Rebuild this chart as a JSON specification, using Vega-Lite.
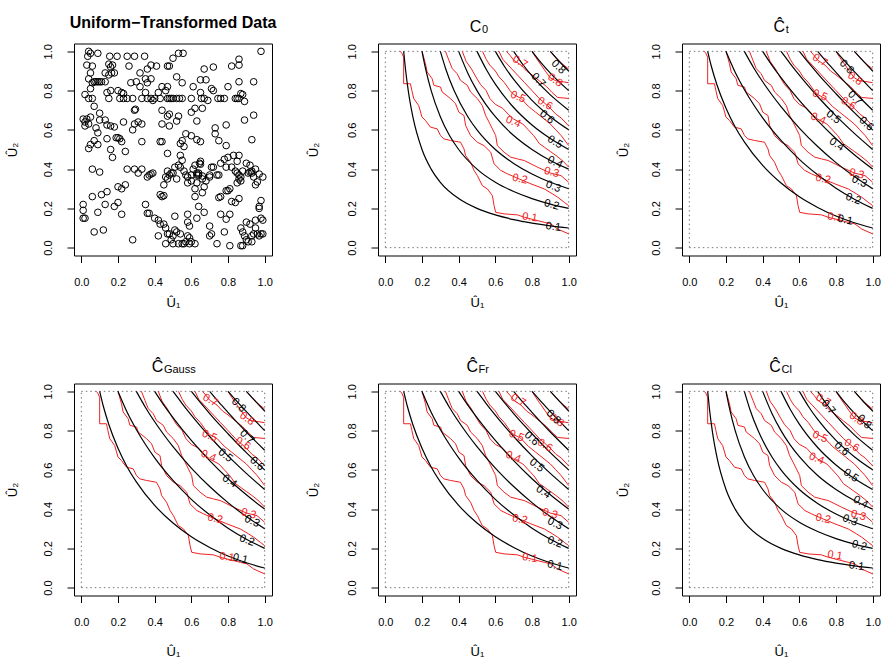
{
"$schema":"https://vega.github.io/schema/vega-lite/v6.json",
"background":"white",
"padding":{"left":6,"top":14.5,"right":0,"bottom":0},
"bounds":"flush",
"columns":3,
"spacing":{"row":128,"column":106},
"config":{
 "font":"Liberation Sans",
 "view":{"stroke":"#000","strokeWidth":1},
 "title":{"font":"Liberation Sans","subtitleFont":"Liberation Sans","color":"#000","subtitleColor":"#000","frame":"group","baseline":"alphabetic"},
 "axis":{"grid":false,"domain":false,"tickSize":7,"tickColor":"#000","tickWidth":1,"labelFont":"Liberation Sans","labelFontSize":11,"labelColor":"#000","titleFont":"Liberation Sans","titleFontSize":13,"titleFontWeight":"normal","titleColor":"#000","labelFlush":false},
 "axisX":{"labelPadding":14,"titleBaseline":"alphabetic","titleAlign":"center","titleX":99},
 "axisY":{"labelAngle":270,"labelAlign":"center","labelBaseline":"bottom","labelPadding":14,"titleAngle":270,"titleBaseline":"alphabetic","titleAlign":"center","titleY":106}
},
"datasets":{
"sq":[{"u":0,"v":0,"u2":1,"v2":0},{"u":1,"v":0,"u2":1,"v2":1},{"u":0,"v":1,"u2":1,"v2":1},{"u":0,"v":0,"u2":0,"v2":1}],
"pts":[
{"u":0.04,"v":1.0},{"u":0.05,"v":0.99},{"u":0.035,"v":0.975},{"u":0.09,"v":0.99},{"u":0.155,"v":0.975},{"u":0.195,"v":0.975},{"u":0.25,"v":0.975},{"u":0.29,"v":0.975},{"u":0.345,"v":0.975},{"u":0.5,"v":0.965},{"u":0.53,"v":0.99},{"u":0.555,"v":0.99},{"u":0.98,"v":1.0},{"u":0.86,"v":0.96},
{"u":0.03,"v":0.93},{"u":0.06,"v":0.925},{"u":0.13,"v":0.89},{"u":0.15,"v":0.935},{"u":0.16,"v":0.92},{"u":0.17,"v":0.93},{"u":0.26,"v":0.925},{"u":0.32,"v":0.89},{"u":0.36,"v":0.91},{"u":0.38,"v":0.93},{"u":0.41,"v":0.925},{"u":0.47,"v":0.925},{"u":0.48,"v":0.925},{"u":0.67,"v":0.91},{"u":0.72,"v":0.92},{"u":0.82,"v":0.925},{"u":0.86,"v":0.93},
{"u":0.04,"v":0.86},{"u":0.05,"v":0.89},{"u":0.06,"v":0.84},{"u":0.07,"v":0.845},{"u":0.08,"v":0.845},{"u":0.09,"v":0.845},{"u":0.1,"v":0.845},{"u":0.11,"v":0.845},{"u":0.13,"v":0.845},{"u":0.15,"v":0.88},{"u":0.165,"v":0.89},{"u":0.18,"v":0.89},{"u":0.27,"v":0.84},{"u":0.3,"v":0.845},{"u":0.32,"v":0.82},{"u":0.36,"v":0.84},{"u":0.35,"v":0.86},{"u":0.38,"v":0.86},{"u":0.47,"v":0.82},{"u":0.46,"v":0.8},{"u":0.52,"v":0.87},{"u":0.55,"v":0.84},{"u":0.61,"v":0.82},{"u":0.65,"v":0.855},{"u":0.68,"v":0.855},{"u":0.8,"v":0.82},{"u":0.86,"v":0.845},{"u":0.94,"v":0.845},
{"u":0.16,"v":0.8},{"u":0.2,"v":0.8},{"u":0.22,"v":0.79},{"u":0.23,"v":0.785},{"u":0.05,"v":0.81},{"u":0.14,"v":0.79},{"u":0.35,"v":0.79},{"u":0.42,"v":0.79},{"u":0.44,"v":0.82},{"u":0.65,"v":0.79},{"u":0.71,"v":0.81},{"u":0.72,"v":0.8},{"u":0.87,"v":0.785},{"u":0.88,"v":0.78},
{"u":0.02,"v":0.78},{"u":0.04,"v":0.76},{"u":0.06,"v":0.76},{"u":0.15,"v":0.76},{"u":0.21,"v":0.76},{"u":0.23,"v":0.76},{"u":0.25,"v":0.76},{"u":0.28,"v":0.76},{"u":0.33,"v":0.76},{"u":0.36,"v":0.76},{"u":0.38,"v":0.76},{"u":0.39,"v":0.75},{"u":0.4,"v":0.76},{"u":0.43,"v":0.76},{"u":0.47,"v":0.76},{"u":0.48,"v":0.76},{"u":0.49,"v":0.76},{"u":0.5,"v":0.76},{"u":0.52,"v":0.76},{"u":0.535,"v":0.76},{"u":0.55,"v":0.76},{"u":0.6,"v":0.76},{"u":0.655,"v":0.76},{"u":0.67,"v":0.76},{"u":0.69,"v":0.75},{"u":0.745,"v":0.76},{"u":0.76,"v":0.76},{"u":0.78,"v":0.76},{"u":0.84,"v":0.76},{"u":0.85,"v":0.76},{"u":0.86,"v":0.76},{"u":0.89,"v":0.745},
{"u":0.07,"v":0.72},{"u":0.1,"v":0.685},{"u":0.1,"v":0.65},{"u":0.13,"v":0.65},{"u":0.29,"v":0.7},{"u":0.295,"v":0.705},{"u":0.31,"v":0.64},{"u":0.33,"v":0.63},{"u":0.28,"v":0.6},{"u":0.29,"v":0.63},{"u":0.44,"v":0.7},{"u":0.44,"v":0.63},{"u":0.47,"v":0.67},{"u":0.48,"v":0.68},{"u":0.53,"v":0.67},{"u":0.48,"v":0.62},{"u":0.52,"v":0.645},{"u":0.6,"v":0.69},{"u":0.62,"v":0.71},{"u":0.63,"v":0.645},{"u":0.66,"v":0.71},{"u":0.73,"v":0.61},{"u":0.73,"v":0.58},{"u":0.79,"v":0.625},{"u":0.89,"v":0.65},{"u":0.94,"v":0.675},
{"u":0.01,"v":0.655},{"u":0.02,"v":0.64},{"u":0.02,"v":0.62},{"u":0.03,"v":0.655},{"u":0.04,"v":0.63},{"u":0.05,"v":0.665},{"u":0.08,"v":0.61},{"u":0.09,"v":0.585},{"u":0.14,"v":0.625},{"u":0.16,"v":0.62},{"u":0.18,"v":0.615},{"u":0.23,"v":0.64},
{"u":0.04,"v":0.505},{"u":0.05,"v":0.525},{"u":0.07,"v":0.545},{"u":0.09,"v":0.525},{"u":0.14,"v":0.555},{"u":0.19,"v":0.56},{"u":0.2,"v":0.56},{"u":0.21,"v":0.555},{"u":0.22,"v":0.54},{"u":0.24,"v":0.49},{"u":0.16,"v":0.5},{"u":0.33,"v":0.54},{"u":0.43,"v":0.54},{"u":0.44,"v":0.54},{"u":0.54,"v":0.53},{"u":0.55,"v":0.545},{"u":0.56,"v":0.515},{"u":0.57,"v":0.58},{"u":0.6,"v":0.57},{"u":0.63,"v":0.55},{"u":0.65,"v":0.54},{"u":0.75,"v":0.545},{"u":0.79,"v":0.52},{"u":0.93,"v":0.55},
{"u":0.17,"v":0.46},{"u":0.47,"v":0.48},{"u":0.54,"v":0.47},{"u":0.8,"v":0.46},{"u":0.83,"v":0.47},{"u":0.86,"v":0.47},{"u":0.85,"v":0.44},{"u":0.78,"v":0.45},{"u":0.55,"v":0.445},{"u":0.65,"v":0.44},
{"u":0.06,"v":0.4},{"u":0.1,"v":0.385},{"u":0.25,"v":0.4},{"u":0.29,"v":0.4},{"u":0.31,"v":0.38},{"u":0.33,"v":0.4},{"u":0.36,"v":0.36},{"u":0.37,"v":0.37},{"u":0.38,"v":0.375},{"u":0.39,"v":0.38},{"u":0.46,"v":0.36},{"u":0.47,"v":0.39},{"u":0.48,"v":0.37},{"u":0.49,"v":0.38},{"u":0.5,"v":0.38},{"u":0.51,"v":0.41},{"u":0.53,"v":0.42},{"u":0.54,"v":0.41},{"u":0.56,"v":0.39},{"u":0.57,"v":0.37},{"u":0.58,"v":0.36},{"u":0.6,"v":0.37},{"u":0.61,"v":0.4},{"u":0.62,"v":0.42},{"u":0.63,"v":0.38},{"u":0.64,"v":0.37},{"u":0.645,"v":0.43},{"u":0.65,"v":0.425},{"u":0.66,"v":0.365},{"u":0.7,"v":0.36},{"u":0.71,"v":0.41},{"u":0.72,"v":0.41},{"u":0.74,"v":0.37},{"u":0.75,"v":0.37},{"u":0.76,"v":0.43},{"u":0.79,"v":0.41},{"u":0.82,"v":0.41},{"u":0.84,"v":0.39},{"u":0.85,"v":0.38},{"u":0.86,"v":0.37},{"u":0.87,"v":0.36},{"u":0.88,"v":0.39},{"u":0.9,"v":0.43},{"u":0.91,"v":0.38},{"u":0.92,"v":0.385},{"u":0.93,"v":0.38},{"u":0.94,"v":0.36},{"u":0.95,"v":0.4},{"u":0.97,"v":0.375},{"u":0.92,"v":0.42},{"u":0.63,"v":0.37},{"u":0.64,"v":0.38},{"u":0.7,"v":0.37},{"u":0.93,"v":0.39},
{"u":0.45,"v":0.32},{"u":0.58,"v":0.33},{"u":0.6,"v":0.34},{"u":0.62,"v":0.3},{"u":0.63,"v":0.33},{"u":0.66,"v":0.35},{"u":0.68,"v":0.34},{"u":0.85,"v":0.33},{"u":0.86,"v":0.35},{"u":0.87,"v":0.34},{"u":0.95,"v":0.32},{"u":0.96,"v":0.335},{"u":0.99,"v":0.36},{"u":0.47,"v":0.35},{"u":0.52,"v":0.35},
{"u":0.11,"v":0.27},{"u":0.06,"v":0.26},{"u":0.14,"v":0.285},{"u":0.2,"v":0.31},{"u":0.22,"v":0.3},{"u":0.24,"v":0.32},{"u":0.43,"v":0.27},{"u":0.44,"v":0.26},{"u":0.45,"v":0.265},{"u":0.62,"v":0.26},{"u":0.66,"v":0.28},{"u":0.67,"v":0.31},{"u":0.75,"v":0.255},{"u":0.76,"v":0.26},{"u":0.79,"v":0.29},{"u":0.8,"v":0.29},{"u":0.81,"v":0.3},{"u":0.82,"v":0.235},{"u":0.84,"v":0.23},{"u":0.86,"v":0.25},
{"u":0.01,"v":0.22},{"u":0.01,"v":0.19},{"u":0.01,"v":0.15},{"u":0.02,"v":0.15},{"u":0.09,"v":0.18},{"u":0.13,"v":0.22},{"u":0.18,"v":0.21},{"u":0.2,"v":0.23},{"u":0.22,"v":0.17},{"u":0.35,"v":0.22},{"u":0.36,"v":0.175},{"u":0.37,"v":0.175},{"u":0.4,"v":0.15},{"u":0.51,"v":0.16},{"u":0.58,"v":0.17},{"u":0.58,"v":0.13},{"u":0.59,"v":0.11},{"u":0.63,"v":0.15},{"u":0.64,"v":0.21},{"u":0.67,"v":0.18},{"u":0.76,"v":0.17},{"u":0.79,"v":0.145},{"u":0.81,"v":0.17},{"u":0.9,"v":0.13},{"u":0.95,"v":0.14},{"u":0.97,"v":0.2},{"u":0.97,"v":0.21},{"u":0.98,"v":0.24},{"u":0.99,"v":0.14},{"u":0.98,"v":0.15},{"u":0.42,"v":0.14},{"u":0.43,"v":0.12},
{"u":0.07,"v":0.08},{"u":0.12,"v":0.09},{"u":0.28,"v":0.04},{"u":0.42,"v":0.06},{"u":0.45,"v":0.12},{"u":0.46,"v":0.1},{"u":0.46,"v":0.02},{"u":0.47,"v":0.07},{"u":0.48,"v":0.07},{"u":0.49,"v":0.04},{"u":0.5,"v":0.02},{"u":0.5,"v":0.06},{"u":0.51,"v":0.09},{"u":0.52,"v":0.08},{"u":0.53,"v":0.02},{"u":0.54,"v":0.07},{"u":0.55,"v":0.02},{"u":0.56,"v":0.02},{"u":0.57,"v":0.03},{"u":0.58,"v":0.06},{"u":0.59,"v":0.05},{"u":0.59,"v":0.02},{"u":0.6,"v":0.03},{"u":0.62,"v":0.02},{"u":0.7,"v":0.11},{"u":0.7,"v":0.06},{"u":0.71,"v":0.07},{"u":0.74,"v":0.02},{"u":0.78,"v":0.08},{"u":0.81,"v":0.01},{"u":0.87,"v":0.01},{"u":0.88,"v":0.01},{"u":0.88,"v":0.08},{"u":0.89,"v":0.06},{"u":0.9,"v":0.04},{"u":0.91,"v":0.03},{"u":0.92,"v":0.12},{"u":0.93,"v":0.06},{"u":0.94,"v":0.07},{"u":0.95,"v":0.1},{"u":0.96,"v":0.07},{"u":0.97,"v":0.06},{"u":0.98,"v":0.07},{"u":0.99,"v":0.07},{"u":0.93,"v":0.03},{"u":0.87,"v":0.1}
],
"red":[
{"l":1,"u":0.082,"v":1.0},{"l":1,"u":0.09,"v":0.99},{"l":1,"u":0.1,"v":0.97},{"l":1,"u":0.1,"v":0.835},{"l":1,"u":0.137,"v":0.835},{"l":1,"u":0.145,"v":0.8},{"l":1,"u":0.155,"v":0.759},{"l":1,"u":0.182,"v":0.724},{"l":1,"u":0.2,"v":0.665},{"l":1,"u":0.219,"v":0.648},{"l":1,"u":0.246,"v":0.614},{"l":1,"u":0.283,"v":0.605},{"l":1,"u":0.301,"v":0.571},{"l":1,"u":0.319,"v":0.554},{"l":1,"u":0.356,"v":0.546},{"l":1,"u":0.41,"v":0.537},{"l":1,"u":0.429,"v":0.503},{"l":1,"u":0.438,"v":0.469},{"l":1,"u":0.465,"v":0.435},{"l":1,"u":0.484,"v":0.393},{"l":1,"u":0.502,"v":0.367},{"l":1,"u":0.529,"v":0.316},{"l":1,"u":0.557,"v":0.299},{"l":1,"u":0.584,"v":0.265},{"l":1,"u":0.593,"v":0.214},{"l":1,"u":0.602,"v":0.18},{"l":1,"u":0.648,"v":0.172},{"l":1,"u":0.721,"v":0.167},{"l":1,"u":0.757,"v":0.155},{"l":1,"u":0.867,"v":0.129},{"l":1,"u":0.903,"v":0.121},{"l":1,"u":0.94,"v":0.095},{"l":1,"u":1.0,"v":0.07},
{"l":2,"u":0.2,"v":1.0},{"l":2,"u":0.219,"v":0.937},{"l":2,"u":0.228,"v":0.895},{"l":2,"u":0.255,"v":0.861},{"l":2,"u":0.265,"v":0.827},{"l":2,"u":0.301,"v":0.818},{"l":2,"u":0.31,"v":0.793},{"l":2,"u":0.356,"v":0.759},{"l":2,"u":0.383,"v":0.733},{"l":2,"u":0.401,"v":0.69},{"l":2,"u":0.429,"v":0.673},{"l":2,"u":0.438,"v":0.622},{"l":2,"u":0.465,"v":0.571},{"l":2,"u":0.502,"v":0.537},{"l":2,"u":0.538,"v":0.52},{"l":2,"u":0.575,"v":0.486},{"l":2,"u":0.593,"v":0.427},{"l":2,"u":0.63,"v":0.393},{"l":2,"u":0.666,"v":0.376},{"l":2,"u":0.73,"v":0.35},{"l":2,"u":0.794,"v":0.325},{"l":2,"u":0.867,"v":0.299},{"l":2,"u":0.912,"v":0.274},{"l":2,"u":0.94,"v":0.257},{"l":2,"u":0.976,"v":0.231},{"l":2,"u":1.0,"v":0.214},
{"l":3,"u":0.328,"v":1.0},{"l":3,"u":0.347,"v":0.954},{"l":3,"u":0.365,"v":0.912},{"l":3,"u":0.392,"v":0.886},{"l":3,"u":0.41,"v":0.852},{"l":3,"u":0.447,"v":0.827},{"l":3,"u":0.465,"v":0.793},{"l":3,"u":0.502,"v":0.759},{"l":3,"u":0.529,"v":0.724},{"l":3,"u":0.547,"v":0.673},{"l":3,"u":0.566,"v":0.639},{"l":3,"u":0.584,"v":0.605},{"l":3,"u":0.602,"v":0.571},{"l":3,"u":0.611,"v":0.52},{"l":3,"u":0.648,"v":0.486},{"l":3,"u":0.684,"v":0.461},{"l":3,"u":0.721,"v":0.452},{"l":3,"u":0.757,"v":0.444},{"l":3,"u":0.794,"v":0.427},{"l":3,"u":0.83,"v":0.41},{"l":3,"u":0.9,"v":0.38},{"l":3,"u":0.958,"v":0.367},{"l":3,"u":1.0,"v":0.333},
{"l":4,"u":0.42,"v":1.0},{"l":4,"u":0.44,"v":0.95},{"l":4,"u":0.47,"v":0.91},{"l":4,"u":0.5,"v":0.86},{"l":4,"u":0.52,"v":0.83},{"l":4,"u":0.55,"v":0.8},{"l":4,"u":0.57,"v":0.76},{"l":4,"u":0.6,"v":0.73},{"l":4,"u":0.64,"v":0.71},{"l":4,"u":0.67,"v":0.68},{"l":4,"u":0.7,"v":0.655},{"l":4,"u":0.75,"v":0.63},{"l":4,"u":0.78,"v":0.6},{"l":4,"u":0.81,"v":0.57},{"l":4,"u":0.84,"v":0.53},{"l":4,"u":0.87,"v":0.51},{"l":4,"u":0.9,"v":0.49},{"l":4,"u":0.93,"v":0.47},{"l":4,"u":0.97,"v":0.44},{"l":4,"u":1.0,"v":0.41},
{"l":5,"u":0.53,"v":1.0},{"l":5,"u":0.55,"v":0.96},{"l":5,"u":0.57,"v":0.93},{"l":5,"u":0.6,"v":0.9},{"l":5,"u":0.62,"v":0.87},{"l":5,"u":0.65,"v":0.84},{"l":5,"u":0.68,"v":0.8},{"l":5,"u":0.7,"v":0.78},{"l":5,"u":0.74,"v":0.76},{"l":5,"u":0.78,"v":0.72},{"l":5,"u":0.82,"v":0.69},{"l":5,"u":0.86,"v":0.66},{"l":5,"u":0.9,"v":0.63},{"l":5,"u":0.93,"v":0.6},{"l":5,"u":0.96,"v":0.57},{"l":5,"u":1.0,"v":0.52},
{"l":6,"u":0.62,"v":1.0},{"l":6,"u":0.64,"v":0.96},{"l":6,"u":0.67,"v":0.93},{"l":6,"u":0.7,"v":0.9},{"l":6,"u":0.73,"v":0.87},{"l":6,"u":0.76,"v":0.84},{"l":6,"u":0.8,"v":0.8},{"l":6,"u":0.84,"v":0.76},{"l":6,"u":0.87,"v":0.735},{"l":6,"u":0.9,"v":0.71},{"l":6,"u":0.93,"v":0.68},{"l":6,"u":0.96,"v":0.66},{"l":6,"u":1.0,"v":0.62},
{"l":7,"u":0.66,"v":1.0},{"l":7,"u":0.68,"v":0.98},{"l":7,"u":0.7,"v":0.955},{"l":7,"u":0.74,"v":0.93},{"l":7,"u":0.77,"v":0.9},{"l":7,"u":0.8,"v":0.88},{"l":7,"u":0.84,"v":0.85},{"l":7,"u":0.88,"v":0.82},{"l":7,"u":0.91,"v":0.79},{"l":7,"u":0.94,"v":0.765},{"l":7,"u":1.0,"v":0.76},
{"l":8,"u":0.8,"v":1.0},{"l":8,"u":0.82,"v":0.97},{"l":8,"u":0.85,"v":0.93},{"l":8,"u":0.88,"v":0.89},{"l":8,"u":0.9,"v":0.865},{"l":8,"u":0.93,"v":0.85},{"l":8,"u":0.97,"v":0.845},{"l":8,"u":1.0,"v":0.84},
{"l":9,"u":0.9,"v":1.0},{"l":9,"u":0.93,"v":0.97},{"l":9,"u":0.96,"v":0.94},{"l":9,"u":1.0,"v":0.91}
],
"blk":[
{"s":"i","l":1,"u":0.1,"v":1},{"s":"i","l":1,"u":0.11,"v":0.909},{"s":"i","l":1,"u":0.125,"v":0.8},{"s":"i","l":1,"u":0.15,"v":0.667},{"s":"i","l":1,"u":0.2,"v":0.5},{"s":"i","l":1,"u":0.25,"v":0.4},{"s":"i","l":1,"u":0.3,"v":0.333},{"s":"i","l":1,"u":0.4,"v":0.25},{"s":"i","l":1,"u":0.5,"v":0.2},{"s":"i","l":1,"u":0.6,"v":0.167},{"s":"i","l":1,"u":0.7,"v":0.143},{"s":"i","l":1,"u":0.8,"v":0.125},{"s":"i","l":1,"u":0.9,"v":0.111},{"s":"i","l":1,"u":1,"v":0.1},
{"s":"i","l":2,"u":0.2,"v":1},{"s":"i","l":2,"u":0.22,"v":0.909},{"s":"i","l":2,"u":0.25,"v":0.8},{"s":"i","l":2,"u":0.3,"v":0.667},{"s":"i","l":2,"u":0.35,"v":0.571},{"s":"i","l":2,"u":0.4,"v":0.5},{"s":"i","l":2,"u":0.5,"v":0.4},{"s":"i","l":2,"u":0.6,"v":0.333},{"s":"i","l":2,"u":0.7,"v":0.286},{"s":"i","l":2,"u":0.8,"v":0.25},{"s":"i","l":2,"u":0.9,"v":0.222},{"s":"i","l":2,"u":1,"v":0.2},
{"s":"i","l":3,"u":0.3,"v":1},{"s":"i","l":3,"u":0.33,"v":0.909},{"s":"i","l":3,"u":0.375,"v":0.8},{"s":"i","l":3,"u":0.45,"v":0.667},{"s":"i","l":3,"u":0.5,"v":0.6},{"s":"i","l":3,"u":0.6,"v":0.5},{"s":"i","l":3,"u":0.7,"v":0.429},{"s":"i","l":3,"u":0.8,"v":0.375},{"s":"i","l":3,"u":0.9,"v":0.333},{"s":"i","l":3,"u":1,"v":0.3},
{"s":"i","l":4,"u":0.4,"v":1},{"s":"i","l":4,"u":0.45,"v":0.889},{"s":"i","l":4,"u":0.5,"v":0.8},{"s":"i","l":4,"u":0.55,"v":0.727},{"s":"i","l":4,"u":0.6,"v":0.667},{"s":"i","l":4,"u":0.7,"v":0.571},{"s":"i","l":4,"u":0.8,"v":0.5},{"s":"i","l":4,"u":0.9,"v":0.444},{"s":"i","l":4,"u":1,"v":0.4},
{"s":"i","l":5,"u":0.5,"v":1},{"s":"i","l":5,"u":0.55,"v":0.909},{"s":"i","l":5,"u":0.6,"v":0.833},{"s":"i","l":5,"u":0.7,"v":0.714},{"s":"i","l":5,"u":0.8,"v":0.625},{"s":"i","l":5,"u":0.9,"v":0.556},{"s":"i","l":5,"u":1,"v":0.5},
{"s":"i","l":6,"u":0.6,"v":1},{"s":"i","l":6,"u":0.65,"v":0.923},{"s":"i","l":6,"u":0.7,"v":0.857},{"s":"i","l":6,"u":0.8,"v":0.75},{"s":"i","l":6,"u":0.9,"v":0.667},{"s":"i","l":6,"u":1,"v":0.6},
{"s":"i","l":7,"u":0.7,"v":1},{"s":"i","l":7,"u":0.75,"v":0.933},{"s":"i","l":7,"u":0.8,"v":0.875},{"s":"i","l":7,"u":0.9,"v":0.778},{"s":"i","l":7,"u":1,"v":0.7},
{"s":"i","l":8,"u":0.8,"v":1},{"s":"i","l":8,"u":0.85,"v":0.941},{"s":"i","l":8,"u":0.9,"v":0.889},{"s":"i","l":8,"u":1,"v":0.8},
{"s":"i","l":9,"u":0.9,"v":1},{"s":"i","l":9,"u":0.95,"v":0.947},{"s":"i","l":9,"u":1,"v":0.9},
{"s":"f","l":1,"u":0.1,"v":1},{"s":"f","l":1,"u":0.12,"v":0.924},{"s":"f","l":1,"u":0.15,"v":0.831},{"s":"f","l":1,"u":0.2,"v":0.71},{"s":"f","l":1,"u":0.25,"v":0.615},{"s":"f","l":1,"u":0.3,"v":0.539},{"s":"f","l":1,"u":0.4,"v":0.419},{"s":"f","l":1,"u":0.5,"v":0.329},{"s":"f","l":1,"u":0.6,"v":0.259},{"s":"f","l":1,"u":0.7,"v":0.205},{"s":"f","l":1,"u":0.8,"v":0.161},{"s":"f","l":1,"u":0.9,"v":0.127},{"s":"f","l":1,"u":1,"v":0.1},
{"s":"f","l":2,"u":0.2,"v":1},{"s":"f","l":2,"u":0.25,"v":0.894},{"s":"f","l":2,"u":0.3,"v":0.806},{"s":"f","l":2,"u":0.35,"v":0.729},{"s":"f","l":2,"u":0.4,"v":0.661},{"s":"f","l":2,"u":0.5,"v":0.546},{"s":"f","l":2,"u":0.6,"v":0.45},{"s":"f","l":2,"u":0.7,"v":0.371},{"s":"f","l":2,"u":0.8,"v":0.303},{"s":"f","l":2,"u":0.9,"v":0.247},{"s":"f","l":2,"u":1,"v":0.2},
{"s":"f","l":3,"u":0.3,"v":1},{"s":"f","l":3,"u":0.35,"v":0.918},{"s":"f","l":3,"u":0.4,"v":0.845},{"s":"f","l":3,"u":0.45,"v":0.779},{"s":"f","l":3,"u":0.5,"v":0.718},{"s":"f","l":3,"u":0.6,"v":0.609},{"s":"f","l":3,"u":0.7,"v":0.515},{"s":"f","l":3,"u":0.8,"v":0.433},{"s":"f","l":3,"u":0.9,"v":0.362},{"s":"f","l":3,"u":1,"v":0.3},
{"s":"f","l":4,"u":0.4,"v":1},{"s":"f","l":4,"u":0.45,"v":0.93},{"s":"f","l":4,"u":0.5,"v":0.866},{"s":"f","l":4,"u":0.55,"v":0.806},{"s":"f","l":4,"u":0.6,"v":0.75},{"s":"f","l":4,"u":0.7,"v":0.647},{"s":"f","l":4,"u":0.8,"v":0.555},{"s":"f","l":4,"u":0.9,"v":0.473},{"s":"f","l":4,"u":1,"v":0.4},
{"s":"f","l":5,"u":0.5,"v":1},{"s":"f","l":5,"u":0.55,"v":0.938},{"s":"f","l":5,"u":0.6,"v":0.879},{"s":"f","l":5,"u":0.65,"v":0.823},{"s":"f","l":5,"u":0.7,"v":0.77},{"s":"f","l":5,"u":0.8,"v":0.671},{"s":"f","l":5,"u":0.9,"v":0.582},{"s":"f","l":5,"u":1,"v":0.5},
{"s":"f","l":6,"u":0.6,"v":1},{"s":"f","l":6,"u":0.65,"v":0.942},{"s":"f","l":6,"u":0.7,"v":0.887},{"s":"f","l":6,"u":0.75,"v":0.834},{"s":"f","l":6,"u":0.8,"v":0.784},{"s":"f","l":6,"u":0.9,"v":0.688},{"s":"f","l":6,"u":1,"v":0.6},
{"s":"f","l":7,"u":0.7,"v":1},{"s":"f","l":7,"u":0.75,"v":0.945},{"s":"f","l":7,"u":0.8,"v":0.893},{"s":"f","l":7,"u":0.85,"v":0.842},{"s":"f","l":7,"u":0.9,"v":0.793},{"s":"f","l":7,"u":1,"v":0.7},
{"s":"f","l":8,"u":0.8,"v":1},{"s":"f","l":8,"u":0.85,"v":0.948},{"s":"f","l":8,"u":0.9,"v":0.897},{"s":"f","l":8,"u":0.95,"v":0.848},{"s":"f","l":8,"u":1,"v":0.8},
{"s":"f","l":9,"u":0.9,"v":1},{"s":"f","l":9,"u":0.95,"v":0.949},{"s":"f","l":9,"u":1,"v":0.9}
],
"lab":[
{"p":"C0","k":"emp","t":"0.1","u":0.788,"v":0.153,"a":8},{"p":"C0","k":"emp","t":"0.2","u":0.734,"v":0.349,"a":12},{"p":"C0","k":"emp","t":"0.3","u":0.907,"v":0.383,"a":15},{"p":"C0","k":"emp","t":"0.4","u":0.697,"v":0.64,"a":22},{"p":"C0","k":"emp","t":"0.5","u":0.724,"v":0.767,"a":22},{"p":"C0","k":"emp","t":"0.6","u":0.87,"v":0.733,"a":30},{"p":"C0","k":"emp","t":"0.7","u":0.734,"v":0.945,"a":30},{"p":"C0","k":"emp","t":"0.8","u":0.925,"v":0.852,"a":35},
{"p":"C0","k":"fit","t":"0.1","u":0.916,"v":0.105,"a":7},{"p":"C0","k":"fit","t":"0.2","u":0.907,"v":0.218,"a":15},{"p":"C0","k":"fit","t":"0.3","u":0.916,"v":0.31,"a":21},{"p":"C0","k":"fit","t":"0.4","u":0.925,"v":0.434,"a":27},{"p":"C0","k":"fit","t":"0.5","u":0.925,"v":0.537,"a":32},{"p":"C0","k":"fit","t":"0.6","u":0.88,"v":0.664,"a":40},{"p":"C0","k":"fit","t":"0.7","u":0.834,"v":0.852,"a":47},{"p":"C0","k":"fit","t":"0.8","u":0.943,"v":0.92,"a":44},
{"p":"t","k":"emp","t":"0.1","u":0.794,"v":0.153,"a":8},{"p":"t","k":"emp","t":"0.2","u":0.73,"v":0.349,"a":12},{"p":"t","k":"emp","t":"0.3","u":0.912,"v":0.375,"a":15},{"p":"t","k":"emp","t":"0.4","u":0.703,"v":0.656,"a":22},{"p":"t","k":"emp","t":"0.5","u":0.712,"v":0.775,"a":22},{"p":"t","k":"emp","t":"0.6","u":0.867,"v":0.733,"a":30},{"p":"t","k":"emp","t":"0.7","u":0.712,"v":0.954,"a":30},{"p":"t","k":"emp","t":"0.8","u":0.903,"v":0.86,"a":35},
{"p":"t","k":"fit","t":"0.1","u":0.85,"v":0.14,"a":12},{"p":"t","k":"fit","t":"0.2","u":0.894,"v":0.247,"a":20},{"p":"t","k":"fit","t":"0.3","u":0.927,"v":0.336,"a":25},{"p":"t","k":"fit","t":"0.4","u":0.803,"v":0.525,"a":33},{"p":"t","k":"fit","t":"0.5","u":0.785,"v":0.664,"a":38},{"p":"t","k":"fit","t":"0.6","u":0.964,"v":0.63,"a":42},{"p":"t","k":"fit","t":"0.7","u":0.903,"v":0.762,"a":45},{"p":"t","k":"fit","t":"0.8","u":0.858,"v":0.92,"a":45},
{"p":"G","k":"emp","t":"0.1","u":0.794,"v":0.155,"a":8},{"p":"G","k":"emp","t":"0.2","u":0.73,"v":0.35,"a":12},{"p":"G","k":"emp","t":"0.3","u":0.912,"v":0.376,"a":15},{"p":"G","k":"emp","t":"0.4","u":0.693,"v":0.67,"a":22},{"p":"G","k":"emp","t":"0.5","u":0.699,"v":0.772,"a":22},{"p":"G","k":"emp","t":"0.6","u":0.881,"v":0.733,"a":30},{"p":"G","k":"emp","t":"0.7","u":0.703,"v":0.954,"a":30},{"p":"G","k":"emp","t":"0.8","u":0.903,"v":0.86,"a":35},
{"p":"G","k":"fit","t":"0.1","u":0.867,"v":0.146,"a":12},{"p":"G","k":"fit","t":"0.2","u":0.903,"v":0.24,"a":20},{"p":"G","k":"fit","t":"0.3","u":0.931,"v":0.337,"a":25},{"p":"G","k":"fit","t":"0.4","u":0.808,"v":0.541,"a":33},{"p":"G","k":"fit","t":"0.5","u":0.785,"v":0.673,"a":38},{"p":"G","k":"fit","t":"0.6","u":0.958,"v":0.631,"a":42},{"p":"G","k":"fit","t":"0.7","u":0.903,"v":0.767,"a":45},{"p":"G","k":"fit","t":"0.8","u":0.858,"v":0.929,"a":45},
{"p":"Fr","k":"emp","t":"0.1","u":0.788,"v":0.15,"a":8},{"p":"Fr","k":"emp","t":"0.2","u":0.734,"v":0.347,"a":12},{"p":"Fr","k":"emp","t":"0.3","u":0.898,"v":0.376,"a":15},{"p":"Fr","k":"emp","t":"0.4","u":0.697,"v":0.665,"a":22},{"p":"Fr","k":"emp","t":"0.5","u":0.715,"v":0.772,"a":22},{"p":"Fr","k":"emp","t":"0.6","u":0.87,"v":0.724,"a":30},{"p":"Fr","k":"emp","t":"0.7","u":0.724,"v":0.954,"a":30},{"p":"Fr","k":"emp","t":"0.8","u":0.934,"v":0.852,"a":35},
{"p":"Fr","k":"fit","t":"0.1","u":0.925,"v":0.112,"a":12},{"p":"Fr","k":"fit","t":"0.2","u":0.925,"v":0.231,"a":20},{"p":"Fr","k":"fit","t":"0.3","u":0.925,"v":0.325,"a":25},{"p":"Fr","k":"fit","t":"0.4","u":0.861,"v":0.486,"a":33},{"p":"Fr","k":"fit","t":"0.5","u":0.825,"v":0.622,"a":38},{"p":"Fr","k":"fit","t":"0.6","u":0.797,"v":0.759,"a":42},{"p":"Fr","k":"fit","t":"0.8","u":0.916,"v":0.869,"a":45},
{"p":"Cl","k":"emp","t":"0.1","u":0.794,"v":0.163,"a":8},{"p":"Cl","k":"emp","t":"0.2","u":0.73,"v":0.35,"a":12},{"p":"Cl","k":"emp","t":"0.3","u":0.922,"v":0.367,"a":15},{"p":"Cl","k":"emp","t":"0.4","u":0.693,"v":0.656,"a":22},{"p":"Cl","k":"emp","t":"0.5","u":0.712,"v":0.767,"a":22},{"p":"Cl","k":"emp","t":"0.6","u":0.885,"v":0.724,"a":30},{"p":"Cl","k":"emp","t":"0.7","u":0.73,"v":0.954,"a":30},{"p":"Cl","k":"emp","t":"0.8","u":0.912,"v":0.86,"a":35},
{"p":"Cl","k":"fit","t":"0.1","u":0.912,"v":0.109,"a":7},{"p":"Cl","k":"fit","t":"0.2","u":0.927,"v":0.214,"a":14},{"p":"Cl","k":"fit","t":"0.3","u":0.876,"v":0.342,"a":22},{"p":"Cl","k":"fit","t":"0.4","u":0.934,"v":0.435,"a":27},{"p":"Cl","k":"fit","t":"0.5","u":0.881,"v":0.571,"a":35},{"p":"Cl","k":"fit","t":"0.6","u":0.83,"v":0.707,"a":42},{"p":"Cl","k":"fit","t":"0.7","u":0.757,"v":0.92,"a":50},{"p":"Cl","k":"fit","t":"0.8","u":0.953,"v":0.844,"a":44}
]
},
"concat":[
{"width":198,"height":212,
 "title":{"text":"Uniform−Transformed Data","fontSize":16,"fontWeight":"bold","anchor":"middle","offset":12.4},
 "data":{"name":"pts"},
 "mark":{"type":"point","shape":"circle","filled":false,"size":44,"color":"#000","strokeWidth":1,"opacity":1},
 "encoding":{
  "x":{"field":"u","type":"quantitative","scale":{"domain":[-0.04,1.04],"nice":false,"zero":false},"axis":{"title":"Û₁","values":[0,0.2,0.4,0.6,0.8,1],"format":".1f","titleY":50.5}},
  "y":{"field":"v","type":"quantitative","scale":{"domain":[-0.04,1.04],"nice":false,"zero":false},"axis":{"title":"Û₂","values":[0,0.2,0.4,0.6,0.8,1],"format":".1f","titleX":-57.4}}
 }
},
{"width":198,"height":212,
 "title":{"text":"C","subtitle":"\u200b\u00a0\u00a0\u00a0\u00a00","fontSize":16,"subtitleFontSize":11,"fontWeight":"normal","anchor":"start","dx":91.7,"offset":8.5,"subtitlePadding":-11.3},
 "encoding":{
  "x":{"field":"u","type":"quantitative","scale":{"domain":[-0.04,1.04],"nice":false,"zero":false},"axis":{"title":"Û₁","values":[0,0.2,0.4,0.6,0.8,1],"format":".1f","titleY":50.5}},
  "y":{"field":"v","type":"quantitative","scale":{"domain":[-0.04,1.04],"nice":false,"zero":false},"axis":{"title":"Û₂","values":[0,0.2,0.4,0.6,0.8,1],"format":".1f","titleX":-60.4}}
 },
 "layer":[
  {"data":{"name":"sq"},"mark":{"type":"rule","color":"#777","strokeDash":[1.5,3],"strokeWidth":1},"encoding":{"x2":{"field":"u2"},"y2":{"field":"v2"}}},
  {"data":{"name":"red"},"mark":{"type":"line","color":"#f02020","strokeWidth":1},"encoding":{"detail":{"field":"l","type":"nominal"},"order":[{"field":"u","type":"quantitative"},{"field":"v","type":"quantitative","sort":"descending"}]}},
  {"data":{"name":"blk"},"transform":[{"filter":"datum.s==='i'"}],"mark":{"type":"line","color":"#000","strokeWidth":1.2,"interpolate":"monotone"},"encoding":{"detail":{"field":"l","type":"nominal"},"order":[{"field":"u","type":"quantitative"},{"field":"v","type":"quantitative","sort":"descending"}]}},
  {"data":{"name":"lab"},"transform":[{"filter":"datum.p==='C0'"}],"mark":{"type":"text","font":"Liberation Sans","fontSize":11},"encoding":{"text":{"field":"t"},"angle":{"field":"a","type":"quantitative","scale":null},"color":{"field":"k","type":"nominal","scale":{"domain":["emp","fit"],"range":["#f02020","#000000"]},"legend":null}}}
 ]
},
{"width":198,"height":212,
 "title":{"text":"Ĉ","subtitle":"\u200b\u00a0\u00a0\u00a0\u00a0t","fontSize":16,"subtitleFontSize":11,"fontWeight":"normal","anchor":"start","dx":91.6,"offset":8.5,"subtitlePadding":-11.3},
 "encoding":{
  "x":{"field":"u","type":"quantitative","scale":{"domain":[-0.04,1.04],"nice":false,"zero":false},"axis":{"title":"Û₁","values":[0,0.2,0.4,0.6,0.8,1],"format":".1f","titleY":50.5}},
  "y":{"field":"v","type":"quantitative","scale":{"domain":[-0.04,1.04],"nice":false,"zero":false},"axis":{"title":"Û₂","values":[0,0.2,0.4,0.6,0.8,1],"format":".1f","titleX":-54.4}}
 },
 "layer":[
  {"data":{"name":"sq"},"mark":{"type":"rule","color":"#777","strokeDash":[1.5,3],"strokeWidth":1},"encoding":{"x2":{"field":"u2"},"y2":{"field":"v2"}}},
  {"data":{"name":"red"},"mark":{"type":"line","color":"#f02020","strokeWidth":1},"encoding":{"detail":{"field":"l","type":"nominal"},"order":[{"field":"u","type":"quantitative"},{"field":"v","type":"quantitative","sort":"descending"}]}},
  {"data":{"name":"blk"},"transform":[{"filter":"datum.s==='f'"}],"mark":{"type":"line","color":"#000","strokeWidth":1.2,"interpolate":"monotone"},"encoding":{"detail":{"field":"l","type":"nominal"},"order":[{"field":"u","type":"quantitative"},{"field":"v","type":"quantitative","sort":"descending"}]}},
  {"data":{"name":"lab"},"transform":[{"filter":"datum.p==='t'"}],"mark":{"type":"text","font":"Liberation Sans","fontSize":11},"encoding":{"text":{"field":"t"},"angle":{"field":"a","type":"quantitative","scale":null},"color":{"field":"k","type":"nominal","scale":{"domain":["emp","fit"],"range":["#f02020","#000000"]},"legend":null}}}
 ]
},
{"width":198,"height":212,
 "title":{"text":"Ĉ","subtitle":"\u200b\u00a0\u00a0\u00a0\u00a0Gauss","fontSize":16,"subtitleFontSize":11,"fontWeight":"normal","anchor":"start","dx":77.7,"offset":8.5,"subtitlePadding":-11.3},
 "encoding":{
  "x":{"field":"u","type":"quantitative","scale":{"domain":[-0.04,1.04],"nice":false,"zero":false},"axis":{"title":"Û₁","values":[0,0.2,0.4,0.6,0.8,1],"format":".1f","titleY":59.6}},
  "y":{"field":"v","type":"quantitative","scale":{"domain":[-0.04,1.04],"nice":false,"zero":false},"axis":{"title":"Û₂","values":[0,0.2,0.4,0.6,0.8,1],"format":".1f","titleX":-57.4}}
 },
 "layer":[
  {"data":{"name":"sq"},"mark":{"type":"rule","color":"#777","strokeDash":[1.5,3],"strokeWidth":1},"encoding":{"x2":{"field":"u2"},"y2":{"field":"v2"}}},
  {"data":{"name":"red"},"mark":{"type":"line","color":"#f02020","strokeWidth":1},"encoding":{"detail":{"field":"l","type":"nominal"},"order":[{"field":"u","type":"quantitative"},{"field":"v","type":"quantitative","sort":"descending"}]}},
  {"data":{"name":"blk"},"transform":[{"filter":"datum.s==='f'"}],"mark":{"type":"line","color":"#000","strokeWidth":1.2,"interpolate":"monotone"},"encoding":{"detail":{"field":"l","type":"nominal"},"order":[{"field":"u","type":"quantitative"},{"field":"v","type":"quantitative","sort":"descending"}]}},
  {"data":{"name":"lab"},"transform":[{"filter":"datum.p==='G'"}],"mark":{"type":"text","font":"Liberation Sans","fontSize":11},"encoding":{"text":{"field":"t"},"angle":{"field":"a","type":"quantitative","scale":null},"color":{"field":"k","type":"nominal","scale":{"domain":["emp","fit"],"range":["#f02020","#000000"]},"legend":null}}}
 ]
},
{"width":198,"height":212,
 "title":{"text":"Ĉ","subtitle":"\u200b\u00a0\u00a0\u00a0\u00a0Fr","fontSize":16,"subtitleFontSize":11,"fontWeight":"normal","anchor":"start","dx":88.4,"offset":8.5,"subtitlePadding":-11.3},
 "encoding":{
  "x":{"field":"u","type":"quantitative","scale":{"domain":[-0.04,1.04],"nice":false,"zero":false},"axis":{"title":"Û₁","values":[0,0.2,0.4,0.6,0.8,1],"format":".1f","titleY":59.6}},
  "y":{"field":"v","type":"quantitative","scale":{"domain":[-0.04,1.04],"nice":false,"zero":false},"axis":{"title":"Û₂","values":[0,0.2,0.4,0.6,0.8,1],"format":".1f","titleX":-60.4}}
 },
 "layer":[
  {"data":{"name":"sq"},"mark":{"type":"rule","color":"#777","strokeDash":[1.5,3],"strokeWidth":1},"encoding":{"x2":{"field":"u2"},"y2":{"field":"v2"}}},
  {"data":{"name":"red"},"mark":{"type":"line","color":"#f02020","strokeWidth":1},"encoding":{"detail":{"field":"l","type":"nominal"},"order":[{"field":"u","type":"quantitative"},{"field":"v","type":"quantitative","sort":"descending"}]}},
  {"data":{"name":"blk"},"transform":[{"filter":"datum.s==='f'"}],"mark":{"type":"line","color":"#000","strokeWidth":1.2,"interpolate":"monotone"},"encoding":{"detail":{"field":"l","type":"nominal"},"order":[{"field":"u","type":"quantitative"},{"field":"v","type":"quantitative","sort":"descending"}]}},
  {"data":{"name":"lab"},"transform":[{"filter":"datum.p==='Fr'"}],"mark":{"type":"text","font":"Liberation Sans","fontSize":11},"encoding":{"text":{"field":"t"},"angle":{"field":"a","type":"quantitative","scale":null},"color":{"field":"k","type":"nominal","scale":{"domain":["emp","fit"],"range":["#f02020","#000000"]},"legend":null}}}
 ]
},
{"width":198,"height":212,
 "title":{"text":"Ĉ","subtitle":"\u200b\u00a0\u00a0\u00a0\u00a0Cl","fontSize":16,"subtitleFontSize":11,"fontWeight":"normal","anchor":"start","dx":87.3,"offset":8.5,"subtitlePadding":-11.3},
 "encoding":{
  "x":{"field":"u","type":"quantitative","scale":{"domain":[-0.04,1.04],"nice":false,"zero":false},"axis":{"title":"Û₁","values":[0,0.2,0.4,0.6,0.8,1],"format":".1f","titleY":59.6}},
  "y":{"field":"v","type":"quantitative","scale":{"domain":[-0.04,1.04],"nice":false,"zero":false},"axis":{"title":"Û₂","values":[0,0.2,0.4,0.6,0.8,1],"format":".1f","titleX":-54.4}}
 },
 "layer":[
  {"data":{"name":"sq"},"mark":{"type":"rule","color":"#777","strokeDash":[1.5,3],"strokeWidth":1},"encoding":{"x2":{"field":"u2"},"y2":{"field":"v2"}}},
  {"data":{"name":"red"},"mark":{"type":"line","color":"#f02020","strokeWidth":1},"encoding":{"detail":{"field":"l","type":"nominal"},"order":[{"field":"u","type":"quantitative"},{"field":"v","type":"quantitative","sort":"descending"}]}},
  {"data":{"name":"blk"},"transform":[{"filter":"datum.s==='i'"}],"mark":{"type":"line","color":"#000","strokeWidth":1.2,"interpolate":"monotone"},"encoding":{"detail":{"field":"l","type":"nominal"},"order":[{"field":"u","type":"quantitative"},{"field":"v","type":"quantitative","sort":"descending"}]}},
  {"data":{"name":"lab"},"transform":[{"filter":"datum.p==='Cl'"}],"mark":{"type":"text","font":"Liberation Sans","fontSize":11},"encoding":{"text":{"field":"t"},"angle":{"field":"a","type":"quantitative","scale":null},"color":{"field":"k","type":"nominal","scale":{"domain":["emp","fit"],"range":["#f02020","#000000"]},"legend":null}}}
 ]
}
]
}
